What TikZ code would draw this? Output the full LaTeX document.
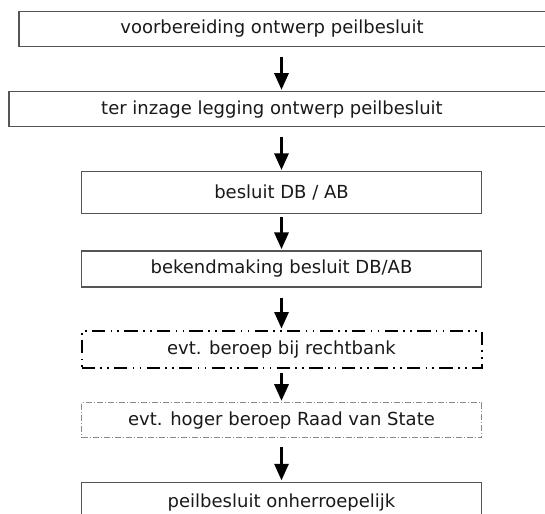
\documentclass[tikz,border=0pt]{standalone}
\usepackage{fontspec}
\setmainfont{DejaVu Sans}
\usetikzlibrary{arrows.meta}
\begin{document}
\begin{tikzpicture}[x=0.75pt,y=-0.75pt,
  every node/.style={font=\fontsize{13.5pt}{16pt}\selectfont, text=black!90, inner sep=0pt},
  solidbox/.style={draw={rgb,255:red,85;green,85;blue,85}, line width=0.8pt, minimum width=300pt},
  dashbox/.style={draw=black, line width=1.5pt, minimum width=300pt,
    dash pattern=on 10pt off 4pt on 1.2pt off 4pt on 1.2pt off 4pt},
  dotbox/.style={draw={rgb,255:red,140;green,140;blue,140}, line width=0.75pt, minimum width=300pt,
    dash pattern=on 4.5pt off 1.5pt on 0.75pt off 1.5pt},
  arr/.style={line width=2.25pt, -{Triangle[length=12.5pt,width=10.5pt]}}
]
\useasboundingbox (0,0) rectangle (545,513);
\clip (0,0) rectangle (545,513);
\node[solidbox, minimum width=408pt, minimum height=26.25pt] (b1) at (291,28.7) {voorbereiding ontwerp peilbesluit\hspace*{28.5pt}};
\node[solidbox, minimum width=408pt, minimum height=26.25pt] (b2) at (281,109.2) {ter inzage legging ontwerp peilbesluit\hspace*{13.5pt}};
\node[solidbox, minimum height=31.5pt] (b3) at (281.5,192.9) {besluit DB / AB};
\node[solidbox, minimum height=27pt] (b4) at (281.5,269) {bekendmaking besluit DB/AB};
\node[dashbox, minimum height=27.75pt] (b5) at (281.5,349.5) {evt. beroep bij rechtbank};
\node[dotbox, minimum height=26.25pt] (b6) at (281.5,420.2) {evt. hoger beroep Raad van State};
\node[solidbox, minimum height=30pt] (b7) at (281.5,502.3) {peilbesluit onherroepelijk};
\draw[arr, shorten <=7.5pt, shorten >=1pt] (b1.south -| b3) -- (b2.north -| b3);
\draw[arr, shorten <=7pt, shorten >=1pt] (b2.south -| b3) -- (b3.north);
\draw[arr, shorten <=2pt, shorten >=1pt] (b3.south) -- (b4.north);
\draw[arr, shorten <=7.5pt, shorten >=1pt] (b4.south) -- (b5.north);
\draw[arr, shorten <=3pt, shorten >=1pt] (b5.south) -- (b6.north);
\draw[arr, shorten <=6.75pt, shorten >=1pt] (b6.south) -- (b7.north);
\end{tikzpicture}
\end{document}
